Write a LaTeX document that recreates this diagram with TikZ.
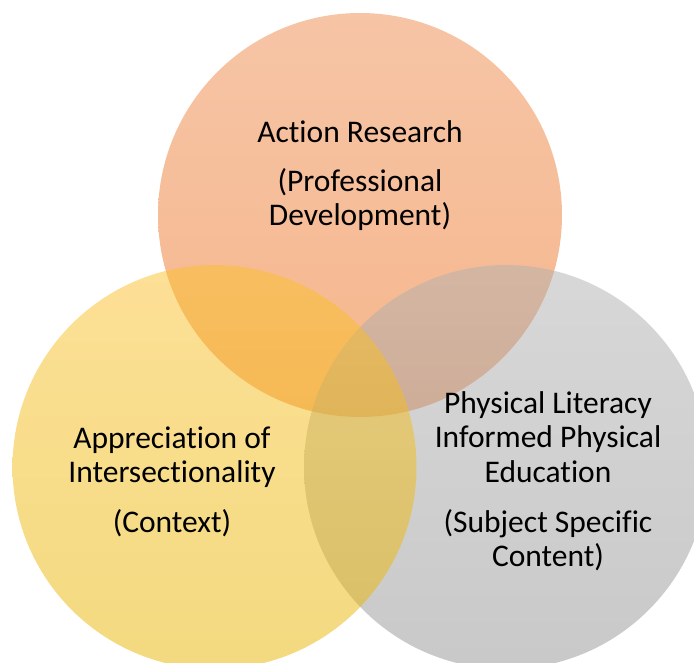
\documentclass[tikz,border=0pt]{standalone}
\usepackage{fontspec}
\setmainfont[RawFeature={-liga;-clig;-calt;-dlig}]{Carlito}
\definecolor{oTop}{RGB}{237,139,77}
\definecolor{oBot}{RGB}{239,109,25}
\definecolor{yTop}{RGB}{251,193,45}
\definecolor{yBot}{RGB}{231,181,0}
\definecolor{gTop}{RGB}{177,177,177}
\definecolor{gBot}{RGB}{147,147,147}
\begin{document}
\begin{tikzpicture}[x=1pt,y=-1pt,
  venn/.style={fill opacity=0.5, draw=none},
  lbl/.style={anchor=base, inner sep=0pt, font=\fontsize{31.5}{34}\selectfont, text=black}]
\useasboundingbox (0,0) rectangle (694,662);
\begin{scope}
\clip (0,0) rectangle (694,662);
\shade[venn, top color=oTop, bottom color=oBot] (360,215) circle[radius=202];
\shade[venn, top color=gTop, bottom color=gBot] (506,467) circle[radius=202];
\shade[venn, top color=yTop, bottom color=yBot] (214.5,467) circle[radius=202];
\end{scope}
\node[lbl] (a1) at (360,142) {Action Research};
\node[lbl] (a2) at (360,191) {(Professional};
\node[lbl] (a3) at (360,225) {Development)};
\node[lbl] (b1) at (172,448) {Appreciation of};
\node[lbl] (b2) at (172,482) {Intersectionality};
\node[lbl] (b3) at (172,532) {(Context)};
\node[lbl] (c1) at (548,413) {Physical Literacy};
\node[lbl] (c2) at (548,447.5) {Informed Physical};
\node[lbl] (c3) at (548,482) {Education};
\node[lbl] (c4) at (548,532) {(Subject Specific};
\node[lbl] (c5) at (548,566) {Content)};
\end{tikzpicture}
\end{document}
